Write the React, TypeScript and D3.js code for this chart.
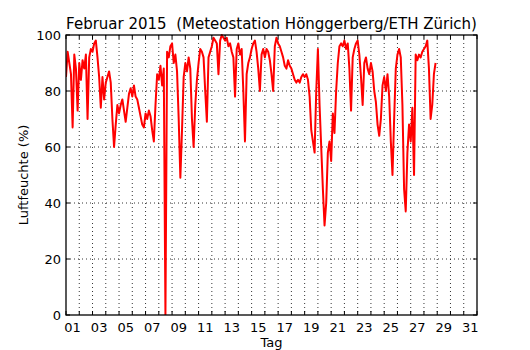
import React from "react";
import * as d3 from "d3";

// relative humidity (%), sampled every 3 hours, starting Feb 1 00:00
const week1 = [
  85, 94, 90, 86, 67, 93, 88, 73,
  90, 84, 91, 88, 93, 70, 92, 95,
  94, 97, 98, 92, 85, 74, 85, 77,
  83, 85, 87, 83, 70, 60, 68, 75,
  72, 75, 77, 73, 69, 74, 79, 81,
  78, 82, 78, 77, 74, 71, 68, 67,
  72, 70, 73, 71, 66, 62, 75, 86,
];
const week2 = [
  84, 89, 82, 88, 0, 94, 92, 96,
  97, 90, 93, 87, 70, 49, 66, 85,
  90, 87, 92, 88, 70, 60, 75, 84,
  90, 95, 94, 92, 80, 69, 92, 94,
  96, 99, 98, 97, 86, 98, 100, 99,
  98, 99, 96, 97, 94, 92, 78, 95,
  97, 93, 95, 80, 62, 86, 90, 92,
];
const week3 = [
  95, 97, 98, 94, 88, 80, 93, 95,
  92, 95, 94, 91, 86, 80, 96, 99,
  97, 96, 94, 92, 89, 88, 91, 89,
  88, 86, 84, 83, 84, 83, 85, 86,
  85, 86, 84, 78, 66, 62, 58, 80,
  95, 75, 60, 45, 32, 40, 58, 62,
  55, 72, 65, 80, 90, 96, 97, 96,
];
const week4 = [
  98, 95, 97, 88, 73, 92, 95, 97,
  98, 93, 85, 75, 90, 92, 88, 86,
  90, 87, 80, 76, 68, 64, 70, 82,
  85, 80, 86, 78, 62, 50, 70, 88,
  93, 95, 92, 75, 45, 37, 58, 68,
  62, 74, 50, 93, 91, 93, 92, 94,
  95, 96, 98, 88, 70, 75, 86, 90,
];
const humidity = [...week1, ...week2, ...week3, ...week4];
const startDay = 1;
const stepDays = 1 / 8;

const dayTicks = d3.range(1, 33); // day boundaries
const dayLabels = d3.range(1, 32, 2); // labelled days
const yTicks = [0, 20, 40, 60, 80, 100];

const W = 530;
const H = 350;
const margin = { top: 35, right: 53, bottom: 35, left: 66 };
const font = "'DejaVu Sans', sans-serif";

export default function App() {
  const x = d3.scaleLinear().domain([1, 32]).range([margin.left, W - margin.right]);
  const y = d3.scaleLinear().domain([0, 100]).range([H - margin.bottom, margin.top]);

  const line = d3
    .line<number>()
    .x((_, i) => x(startDay + i * stepDays))
    .y((d) => y(d));

  const x0 = margin.left;
  const x1 = W - margin.right;
  const y0 = H - margin.bottom;
  const y1 = margin.top;

  return (
    <svg
      width={W}
      height={H}
      style={{ position: "absolute", left: 0, top: 0, background: "#fff" }}
      fontFamily={font}
    >
      <rect x={0} y={0} width={W} height={H} fill="#fff" />
      {/* grid */}
      {dayTicks.slice(1, -1).map((d) => (
        <line key={"gx" + d} x1={x(d)} x2={x(d)} y1={y1} y2={y0}
          stroke="#000" strokeWidth={0.8} strokeDasharray="1,3" />
      ))}
      {yTicks.slice(1, -1).map((v) => (
        <line key={"gy" + v} x1={x0} x2={x1} y1={y(v)} y2={y(v)}
          stroke="#000" strokeWidth={0.8} strokeDasharray="1,3" />
      ))}
      {/* data */}
      <g clipPath="url(#plotclip)">
        <path d={line(humidity) || ""} fill="none" stroke="#ff0000" strokeWidth={2} strokeLinejoin="round" />
      </g>
      <defs>
        <clipPath id="plotclip">
          <rect x={x0} y={y1 - 1} width={x1 - x0} height={y0 - y1 + 1} />
        </clipPath>
      </defs>
      {/* ticks */}
      {dayTicks.map((d) => (
        <g key={"tx" + d}>
          <line x1={x(d)} x2={x(d)} y1={y0} y2={y0 - 4} stroke="#000" />
          <line x1={x(d)} x2={x(d)} y1={y1} y2={y1 + 4} stroke="#000" />
        </g>
      ))}
      {yTicks.map((v) => (
        <g key={"ty" + v}>
          <line x1={x0} x2={x0 + 4} y1={y(v)} y2={y(v)} stroke="#000" />
          <line x1={x1} x2={x1 - 4} y1={y(v)} y2={y(v)} stroke="#000" />
          <text x={x0 - 5} y={y(v)} dy="0.35em" textAnchor="end" fontSize={13}>
            {v}
          </text>
        </g>
      ))}
      {dayLabels.map((d) => (
        <text key={"lx" + d} x={x(d + 0.5)} y={y0 + 17} textAnchor="middle" fontSize={13}>
          {String(d).padStart(2, "0")}
        </text>
      ))}
      <rect x={x0} y={y1} width={x1 - x0} height={y0 - y1} fill="none" stroke="#000" strokeWidth={1.3} />
      {/* labels */}
      <text x={(x0 + x1) / 2} y={29} textAnchor="middle" fontSize={15} style={{ whiteSpace: "pre" }}>
        {"Februar 2015  (Meteostation Hönggerberg/ETH Zürich)"}
      </text>
      <text x={(x0 + x1) / 2} y={H - 3} textAnchor="middle" fontSize={13}>
        Tag
      </text>
      <text transform={`translate(28,${(y0 + y1) / 2}) rotate(-90)`} textAnchor="middle" fontSize={13}>
        Luftfeuchte (%)
      </text>
    </svg>
  );
}
